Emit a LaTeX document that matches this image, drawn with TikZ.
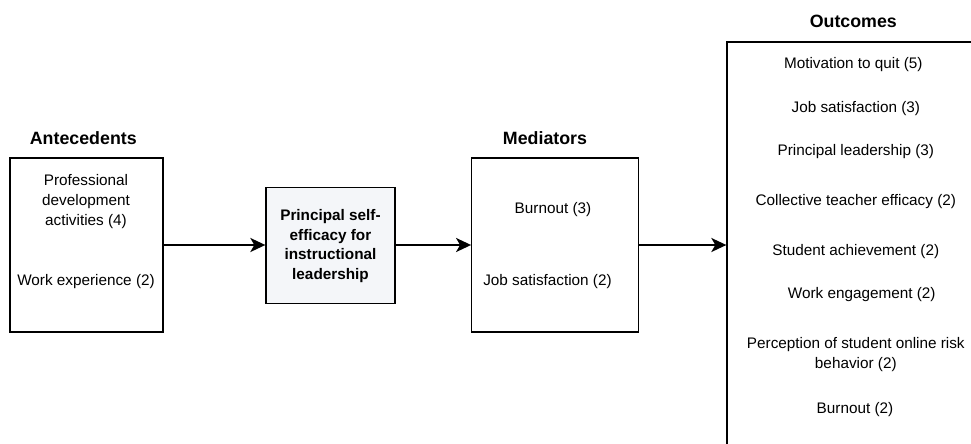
\documentclass[tikz,border=0pt]{standalone}
\usepackage{fontspec}
\setmainfont{Liberation Sans}
\usetikzlibrary{arrows.meta}
\definecolor{cenfill}{HTML}{F4F6F9}
\tikzset{
  box/.style={draw, line width=1.3pt, inner sep=0pt},
  txt/.style={align=center, inner sep=0pt, font=\fontsize{15.3}{20}\selectfont},
  boldtxt/.style={txt, font=\fontsize{15.3}{19.5}\selectfont\bfseries},
  head/.style={inner sep=0pt, font=\fontsize{17.8}{21}\selectfont\bfseries},
  flow/.style={line width=2.2pt, -{Stealth[length=15pt,width=14pt,inset=4pt]}},
}
\begin{document}
\begin{tikzpicture}[x=1pt,y=-1pt]
\useasboundingbox (0,0) rectangle (971,444);
\clip (0,0) rectangle (971,444);

% Antecedents
\node[head] (anthead) at (83.3,138) {Antecedents};
\node[box, minimum width=153pt, minimum height=174pt] (ant) at (86.5,245) {};
\node[txt] (profdev) at (86,201.7) {Professional\\development\\activities (4)};
\node[txt] (workexp) at (86,281.7) {Work experience (2)};

% Principal self-efficacy
\node[box, fill=cenfill, minimum width=129pt, minimum height=116pt] (cen) at (330.5,245.5) {};
\node[boldtxt] (centxt) at (330.5,246) {Principal self-\\efficacy for\\instructional\\leadership};

% Mediators
\node[head] (medhead) at (545,138) {Mediators};
\node[box, minimum width=166.5pt, minimum height=174pt] (med) at (555,245) {};
\node[txt] (medburn) at (553,210) {Burnout (3)};
\node[txt] (medjob) at (547.5,281.7) {Job satisfaction (2)};

% Outcomes (box runs off the page)
\node[head] (outhead) at (853.3,21.7) {Outcomes};
\node[box, minimum width=256pt, minimum height=420pt] (out) at (855,252) {};
\node[txt] (quit) at (853.3,65) {Motivation to quit (5)};
\node[txt] (outjob) at (855.8,108.3) {Job satisfaction (3)};
\node[txt] (lead) at (855.8,151.7) {Principal leadership (3)};
\node[txt] (coll) at (855.8,201.7) {Collective teacher efficacy (2)};
\node[txt] (achv) at (855.8,251.7) {Student achievement (2)};
\node[txt] (engage) at (861.7,295) {Work engagement (2)};
\node[txt] (risk) at (855.8,354.2) {Perception of student online risk\\behavior (2)};
\node[txt] (outburn) at (855,410) {Burnout (2)};

% Connectors
\draw[flow] (ant.east) -- (cen.west |- ant.east);
\draw[flow] (cen.east |- med.west) -- (med.west);
\draw[flow] (med.east) -- (out.west |- med.east);
\end{tikzpicture}
\end{document}
